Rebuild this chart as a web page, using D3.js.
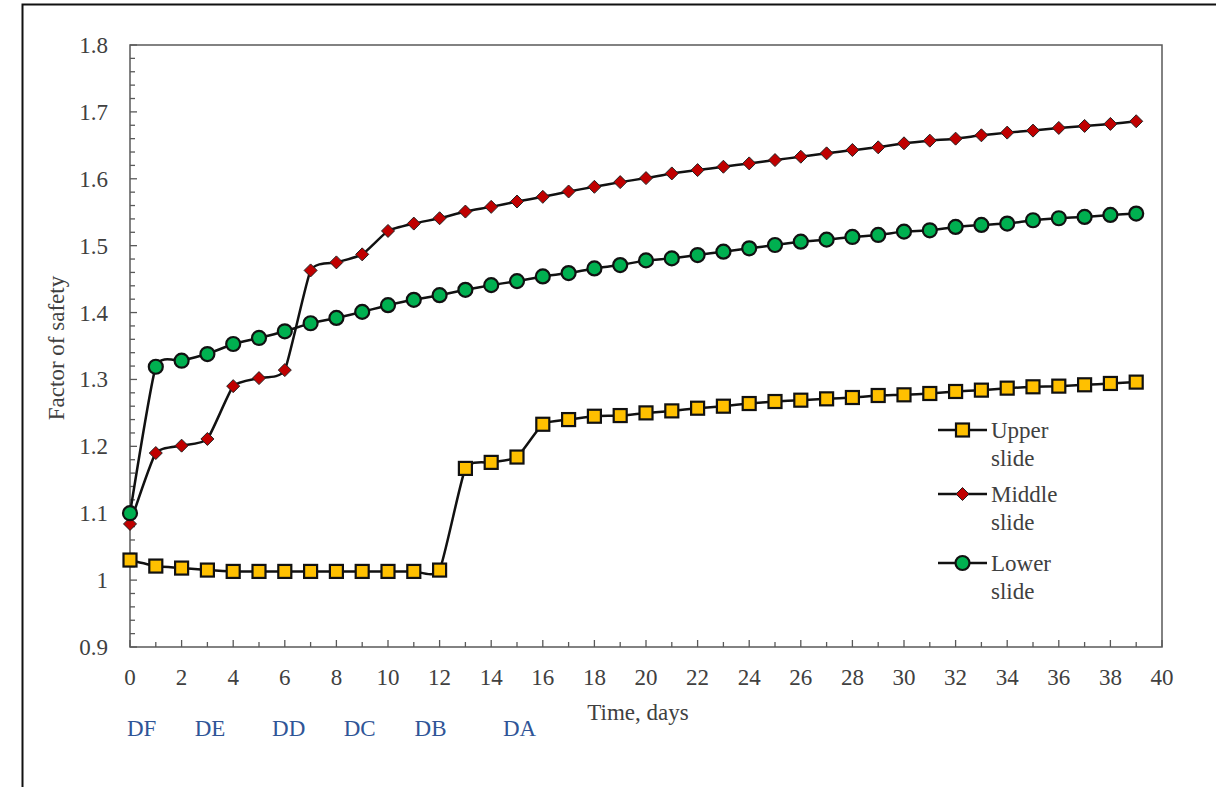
<!DOCTYPE html>
<html>
<head>
<meta charset="utf-8">
<script src="https://cdn.jsdelivr.net/npm/d3@7"></script>
<style>
  html, body { margin: 0; padding: 0; background: #ffffff; }
  svg { display: block; }
  text { font-family: "Liberation Serif", "Times New Roman", serif; }
</style>
</head>
<body>
<svg id="chart" width="1216" height="787"></svg>
<script>
// ---- data ----
const days = d3.range(0, 40);
const upperSlide = [1.030,1.021,1.018,1.015,1.013,1.013,1.013,1.013,1.013,1.013,1.013,1.013,1.015,
  1.167,1.176,1.184,1.233,1.240,1.245,1.246,1.250,1.253,1.257,1.260,1.264,1.267,1.269,1.271,1.273,
  1.276,1.277,1.279,1.282,1.284,1.287,1.289,1.290,1.292,1.294,1.296];
const middleSlide = [1.084,1.190,1.201,1.211,1.290,1.302,1.314,1.463,1.475,1.487,1.522,1.533,1.541,
  1.551,1.558,1.566,1.573,1.581,1.588,1.595,1.601,1.608,1.613,1.618,1.623,1.628,1.633,1.638,1.643,
  1.647,1.653,1.657,1.660,1.665,1.669,1.672,1.676,1.679,1.682,1.686];
const lowerSlide = [1.100,1.319,1.328,1.338,1.353,1.362,1.372,1.384,1.392,1.401,1.411,1.419,1.426,
  1.434,1.441,1.447,1.454,1.459,1.466,1.471,1.478,1.481,1.486,1.491,1.496,1.501,1.506,1.509,1.513,
  1.516,1.521,1.523,1.528,1.531,1.533,1.538,1.541,1.543,1.546,1.548];
const seriesNames = [["Upper", "slide"], ["Middle", "slide"], ["Lower", "slide"]];
const xTickValues = d3.range(0, 41, 2);
const yTickValues = [0.9, 1.0, 1.1, 1.2, 1.3, 1.4, 1.5, 1.6, 1.7, 1.8];
const yTickLabels = ["0.9", "1", "1.1", "1.2", "1.3", "1.4", "1.5", "1.6", "1.7", "1.8"];
const stageLabels = ["DF", "DE", "DD", "DC", "DB", "DA"];
const stageDays = [0.45, 3.1, 6.15, 8.9, 11.65, 15.1];

// ---- layout ----
const svg = d3.select("#chart");
const plot = { left: 130, right: 1162, top: 45, bottom: 647 };
const x = d3.scaleLinear().domain([0, 40]).range([plot.left, plot.right]);
const y = d3.scaleLinear().domain([0.9, 1.8]).range([plot.bottom, plot.top]);
const axisColor = "#595959";
const textColor = "#404040";
const fs = 23;

// outer frame (cropped on right and bottom)
svg.append("path")
  .attr("d", `M1230,4.5 H22.5 V800`)
  .attr("fill", "none").attr("stroke", "#111").attr("stroke-width", 2);

// plot frame
svg.append("rect")
  .attr("x", plot.left).attr("y", plot.top)
  .attr("width", plot.right - plot.left).attr("height", plot.bottom - plot.top)
  .attr("fill", "none").attr("stroke", axisColor).attr("stroke-width", 1.5);

// y axis ticks (inward) - major 0.1, minor 0.02
const yMinor = d3.range(0, 46).map(i => 0.9 + i * 0.02);
svg.append("g").selectAll("line").data(yMinor).join("line")
  .attr("x1", plot.left).attr("x2", (d, i) => plot.left + (i % 5 === 0 ? 7 : 5))
  .attr("y1", d => y(d)).attr("y2", d => y(d))
  .attr("stroke", axisColor).attr("stroke-width", 1.3);

// x axis ticks (inward)
svg.append("g").selectAll("line").data(d3.range(0, 41)).join("line")
  .attr("x1", d => x(d)).attr("x2", d => x(d))
  .attr("y1", plot.bottom).attr("y2", d => plot.bottom - (d % 2 === 0 ? 7 : 5))
  .attr("stroke", axisColor).attr("stroke-width", 1.3);

// y tick labels
svg.append("g").selectAll("text").data(yTickValues).join("text")
  .attr("x", 108).attr("y", d => y(d) + 8)
  .attr("text-anchor", "end").attr("font-size", fs).attr("fill", textColor)
  .text((d, i) => yTickLabels[i]);

// x tick labels
svg.append("g").selectAll("text").data(xTickValues).join("text")
  .attr("x", d => x(d)).attr("y", 685)
  .attr("text-anchor", "middle").attr("font-size", fs).attr("fill", textColor)
  .text(d => d);

// axis titles
svg.append("text").attr("x", 638).attr("y", 720)
  .attr("text-anchor", "middle").attr("font-size", fs).attr("fill", textColor)
  .text("Time, days");
svg.append("text")
  .attr("transform", "translate(64,348) rotate(-90)")
  .attr("text-anchor", "middle").attr("font-size", fs).attr("fill", textColor)
  .text("Factor of safety");

// stage labels
svg.append("g").selectAll("text").data(stageLabels).join("text")
  .attr("x", (d, i) => x(stageDays[i])).attr("y", 736)
  .attr("text-anchor", "middle").attr("font-size", fs).attr("fill", "#2F5597")
  .text(d => d);

// ---- series ----
const line = d3.line()
  .x((d, i) => x(days[i])).y(d => y(d))
  .curve(d3.curveCardinal.tension(0.5));

function drawSquare(g, cx, cy) {
  g.append("rect").attr("x", cx - 6.5).attr("y", cy - 6.5).attr("width", 13).attr("height", 13)
    .attr("fill", "#FFC000").attr("stroke", "#111").attr("stroke-width", 2.2);
}
function drawDiamond(g, cx, cy) {
  g.append("path").attr("d", `M${cx},${cy - 6.5} L${cx + 6.5},${cy} L${cx},${cy + 6.5} L${cx - 6.5},${cy} Z`)
    .attr("fill", "#C00000").attr("stroke", "#222").attr("stroke-width", 1);
}
function drawCircle(g, cx, cy) {
  g.append("circle").attr("cx", cx).attr("cy", cy).attr("r", 7)
    .attr("fill", "#00B050").attr("stroke", "#111").attr("stroke-width", 2.2);
}

const series = [
  { values: upperSlide, marker: drawSquare },
  { values: middleSlide, marker: drawDiamond },
  { values: lowerSlide, marker: drawCircle }
];

series.forEach(s => {
  const g = svg.append("g");
  g.append("path").attr("d", line(s.values))
    .attr("fill", "none").attr("stroke", "#111").attr("stroke-width", 2.5);
  s.values.forEach((v, i) => s.marker(g, x(days[i]), y(v)));
});

// ---- legend ----
const legendRows = [430, 494, 563];
series.forEach((s, k) => {
  const g = svg.append("g");
  const ly = legendRows[k];
  g.append("line").attr("x1", 938).attr("x2", 987).attr("y1", ly).attr("y2", ly)
    .attr("stroke", "#111").attr("stroke-width", 2.5);
  s.marker(g, 962.5, ly);
  g.append("text").attr("x", 991).attr("y", ly + 8)
    .attr("font-size", fs).attr("fill", textColor).text(seriesNames[k][0]);
  g.append("text").attr("x", 991).attr("y", ly + 36)
    .attr("font-size", fs).attr("fill", textColor).text(seriesNames[k][1]);
});
</script>
</body>
</html>
